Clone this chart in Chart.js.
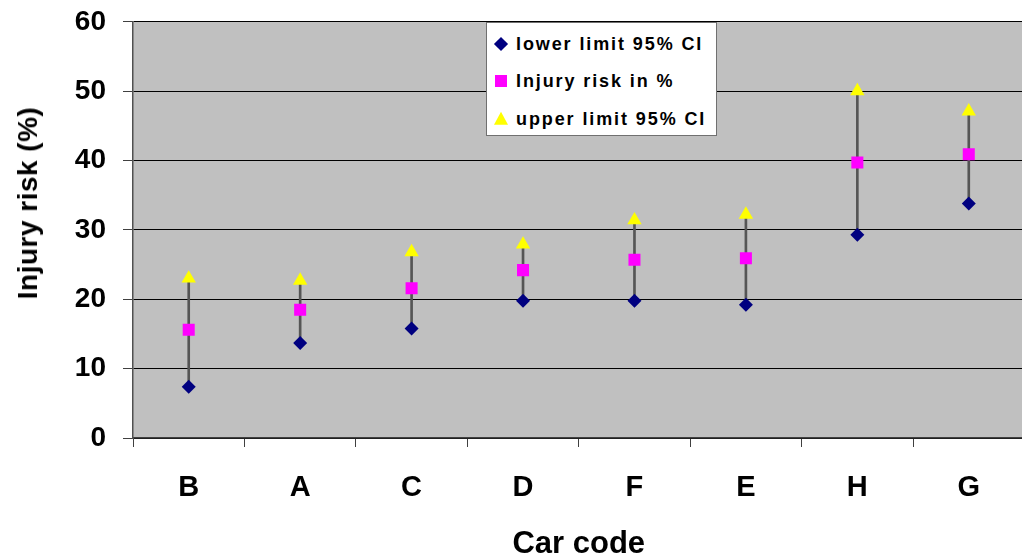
<!DOCTYPE html>
<html>
<head>
<meta charset="utf-8">
<script src="https://cdn.jsdelivr.net/npm/chart.js@4.4.0/dist/chart.umd.min.js"></script>
<style>
  body { margin: 0; overflow: hidden; background: #fff; font-family: "Liberation Sans", Arial, sans-serif; }
  #wrap { position: relative; width: 1022px; height: 559px; overflow: hidden; }
  #chart { position: absolute; left: 0; top: -12px; }
  #ytitle {
    position: absolute; left: 28px; top: 203px;
    transform: translate(-50%, -50%) rotate(-90deg);
    font-weight: bold; font-size: 28px; white-space: nowrap; letter-spacing: 0.5px;
  }
  #legend {
    position: absolute; left: 486px; top: 22px; width: 231px; height: 114px;
    background: #fff; border: 1px solid #707070; box-sizing: border-box;
  }
  .row { position: absolute; left: 0; height: 30px; width: 100%; }
  .row span.txt {
    position: absolute; left: 29px; top: 50%; transform: translateY(-50%);
    font-weight: bold; font-size: 18px; letter-spacing: 1.9px; white-space: nowrap;
  }
  .mk { position: absolute; left: 14px; top: 50%; }
  .diamond { width: 10px; height: 10px; transform: translate(-50%, -50%) rotate(45deg); }
  .square { width: 12px; height: 12px; transform: translate(-50%, -50%); }
  .triangle { width: 0; height: 0; border-left: 7px solid transparent; border-right: 7px solid transparent; transform: translate(-50%, -55%); }
</style>
</head>
<body>
<div id="wrap">
  <canvas id="chart" width="1033" height="571"></canvas>
  <div id="ytitle">Injury risk (%)</div>
  <div id="legend"></div>
</div>
<script>
const categories = ['B', 'A', 'C', 'D', 'F', 'E', 'H', 'G'];
const lowerLimit = [7.4, 13.7, 15.8, 19.8, 19.8, 19.2, 29.3, 33.8];
const injuryRisk = [15.6, 18.5, 21.6, 24.2, 25.7, 25.9, 39.7, 40.9];
const upperLimit = [23.0, 22.7, 26.8, 27.9, 31.4, 32.2, 50.0, 47.1];
const yTicks = [0, 10, 20, 30, 40, 50, 60];

const seriesNames = ['lower limit 95% CI', 'Injury risk in %', 'upper limit 95% CI'];
const seriesColors = ['#000080', '#FF00FF', '#FFFF00'];

// fond gris de la zone de tracé
const plotBg = {
    id: 'plotBg',
    beforeDraw(chart) {
        const a = chart.chartArea;
        const ctx = chart.ctx;
        ctx.save();
        ctx.fillStyle = '#C0C0C0';
        ctx.fillRect(a.left, a.top, a.right - a.left, a.bottom - a.top);
        ctx.restore();
    }
};

const ctx = document.getElementById('chart').getContext('2d');
const chart = new Chart(ctx, {
    type: 'bar',
    data: {
        labels: categories,
        datasets: [
            {
                type: 'line', label: seriesNames[0], data: lowerLimit, showLine: false,
                pointStyle: 'rectRot', pointRadius: 7, pointBorderWidth: 0,
                pointBackgroundColor: seriesColors[0], pointBorderColor: seriesColors[0], order: 1
            },
            {
                type: 'line', label: seriesNames[1], data: injuryRisk, showLine: false,
                pointStyle: 'rect', pointRadius: 8.5, pointBorderWidth: 0,
                pointBackgroundColor: seriesColors[1], pointBorderColor: seriesColors[1], order: 2
            },
            {
                type: 'line', label: seriesNames[2], data: upperLimit, showLine: false,
                pointStyle: 'triangle', pointRadius: 8.3, pointBorderWidth: 0,
                pointBackgroundColor: seriesColors[2], pointBorderColor: seriesColors[2], order: 3
            },
            {
                // lignes haut-bas
                label: 'range', data: categories.map((c, i) => [lowerLimit[i], upperLimit[i]]),
                backgroundColor: '#555555', borderWidth: 0, barThickness: 2, order: 10
            }
        ]
    },
    options: {
        responsive: false,
        animation: false,
        layout: { padding: { left: 0, right: 0, top: 8, bottom: 0 } },
        plugins: { legend: { display: false }, tooltip: { enabled: false } },
        scales: {
            x: {
                grid: { drawOnChartArea: false, drawTicks: true, tickLength: 9, tickColor: '#404040', offset: true },
                border: { color: '#404040', width: 1.5 },
                ticks: { color: '#000', font: { family: 'Liberation Sans', size: 29, weight: 'bold' }, padding: 24 },
                title: { display: true, text: 'Car code', color: '#000', font: { family: 'Liberation Sans', size: 31, weight: 'bold' }, padding: { top: 0, bottom: -4 } },
                afterFit(scale) { scale.height = 121; }
            },
            y: {
                min: 0, max: 60,
                grid: { color: '#000', lineWidth: 1, tickLength: 10, tickColor: '#404040' },
                border: { color: '#505050', width: 1.5 },
                afterBuildTicks(scale) { scale.ticks = yTicks.map(v => ({ value: v })); },
                ticks: { color: '#000', font: { family: 'Liberation Sans', size: 28, weight: 'bold' }, padding: 17 },
                afterFit(scale) { scale.width = 133; }
            }
        }
    },
    plugins: [plotBg]
});

// légende HTML dans un cadre blanc
const legend = document.getElementById('legend');
const shapes = ['diamond', 'square', 'triangle'];
const rowTops = [6, 43, 81];
seriesNames.forEach((name, i) => {
    const row = document.createElement('div');
    row.className = 'row';
    row.style.top = rowTops[i] + 'px';
    const mk = document.createElement('div');
    mk.className = 'mk ' + shapes[i];
    if (shapes[i] === 'triangle') mk.style.borderBottom = '13px solid ' + seriesColors[i];
    else mk.style.background = seriesColors[i];
    const txt = document.createElement('span');
    txt.className = 'txt';
    txt.textContent = name;
    row.appendChild(mk);
    row.appendChild(txt);
    legend.appendChild(row);
});
</script>
</body>
</html>
